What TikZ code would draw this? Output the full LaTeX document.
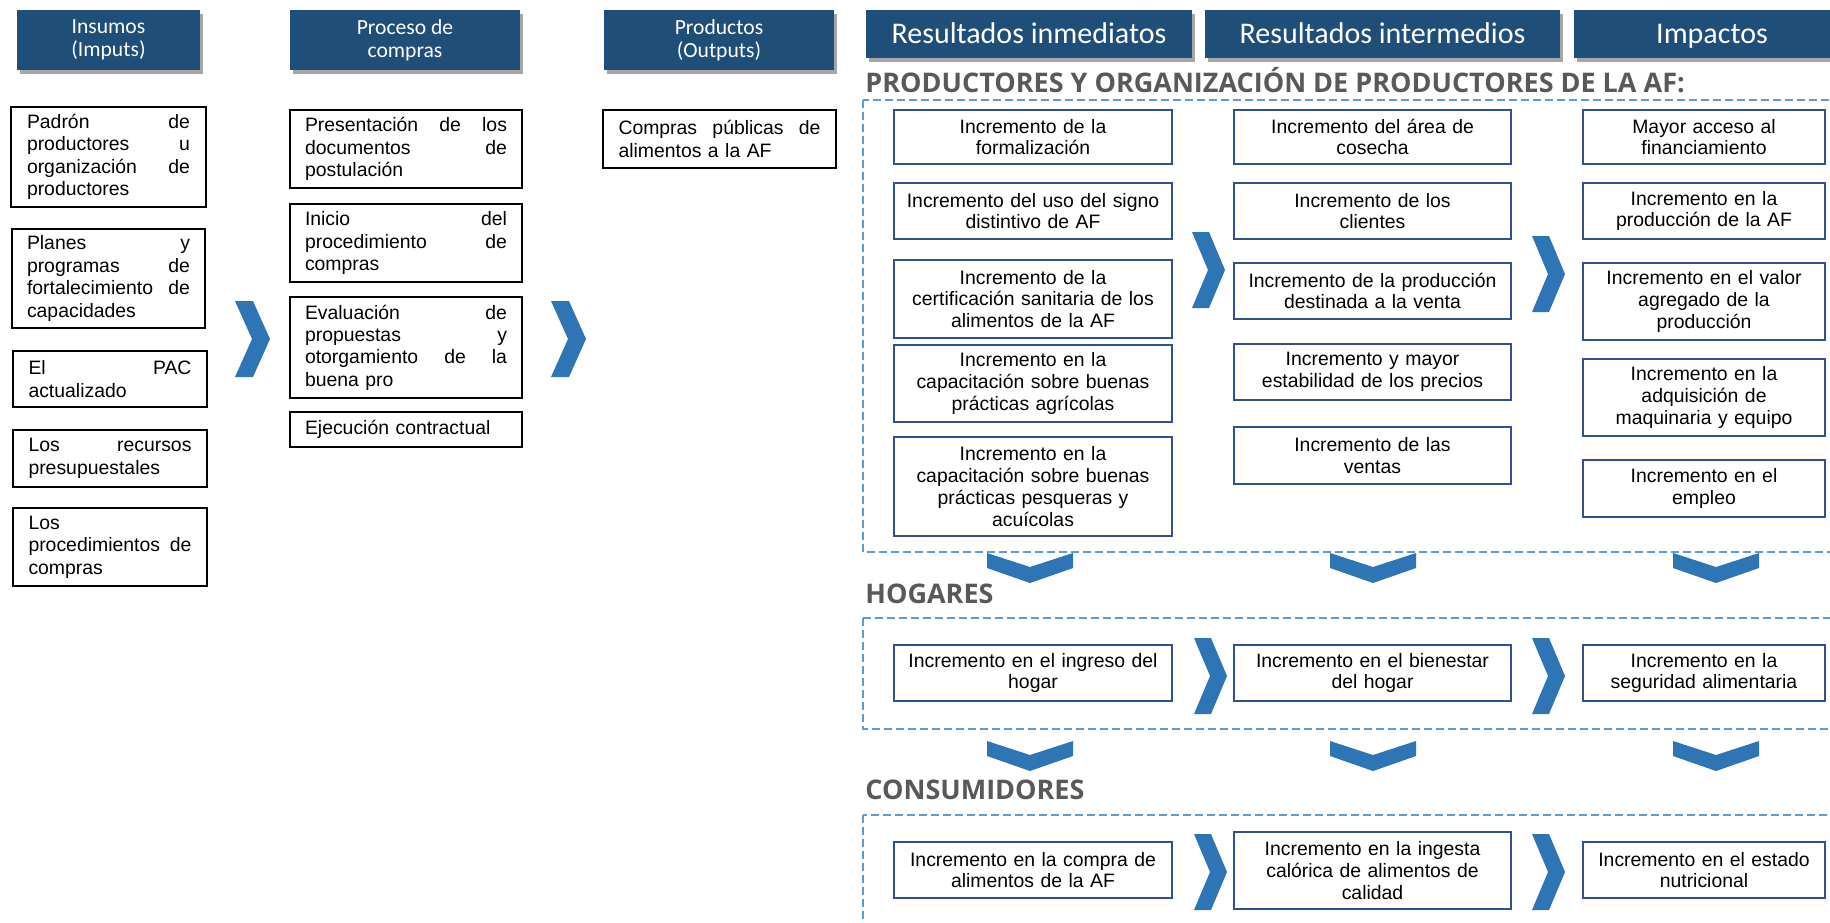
\documentclass[tikz,border=0pt]{standalone}
\usepackage{fontspec}
\setmainfont{Liberation Sans}
\newfontfamily\hdfont{Carlito}
\newfontfamily\ttlfont{Open Sans}
\usetikzlibrary{shadows}

\definecolor{hdblue}{RGB}{31,78,121}
\definecolor{chevblue}{RGB}{46,117,182}
\definecolor{dashblue}{RGB}{91,155,213}
\definecolor{bxblue}{RGB}{47,82,143}
\definecolor{ttlgrey}{RGB}{89,89,89}

% fill a line of a justified box
\newcommand\jf{\hskip 0pt plus 1filll\relax}

% box from corner (x1,y1) to corner (x2,y2): name, x1, y1, x2, y2, style, text
\newcommand\bx[7]{%
  \node[#6, minimum width={(#4-#2)*0.5pt}, minimum height={(#5-#3)*0.5pt}]
    (#1) at ({(#2+#4)/2},{(#3+#5)/2}) {#7};}

\tikzset{
  hd/.style={fill=hdblue, text=white, align=center, inner sep=0pt,
    drop shadow={shadow xshift=1.5pt, shadow yshift=-1.8pt, opacity=0.35, fill=black}},
  hdsmall/.style={hd, font=\hdfont\fontsize{10.8}{11.5}\selectfont},
  hdlarge/.style={hd, font=\hdfont\fontsize{15}{17}\selectfont,
    text height=11.5pt, text depth=2pt},
  lbox/.style={draw=black, line width=1.2pt, fill=white, align=left,
    inner xsep=0pt, inner ysep=0pt, font=\fontsize{9.7}{11.2}\selectfont},
  incol/.style={lbox, text width=81.5pt},
  prcol/.style={lbox, text width=101pt},
  rbox/.style={draw=bxblue, line width=1.2pt, fill=white, align=center,
    inner xsep=0pt, inner ysep=0pt, font=\fontsize{9.7}{10.9}\selectfont},
  rwide/.style={rbox, text width=132pt},
  rnarrow/.style={rbox, text width=116pt},
  grp/.style={draw=dashblue, line width=0.6pt, dash pattern=on 4pt off 2pt},
  ttl/.style={anchor=base west, inner sep=0pt, text=ttlgrey,
    font=\ttlfont\bfseries\fontsize{13.5}{15}\selectfont},
  rchev/.pic={\fill[chevblue] (0,0) -- (17,0) -- (33,38) -- (17,76) -- (0,76) -- (16,38) -- cycle;},
  lchev/.pic={\fill[chevblue] (0,0) -- (18,0) -- (35,38) -- (18,76) -- (0,76) -- (17,38) -- cycle;},
  dchev/.pic={\fill[chevblue] (0,0) -- (43,14) -- (86,0) -- (86,15) -- (43,30) -- (0,15) -- cycle;},
}

\begin{document}
\begin{tikzpicture}[x=0.5pt,y=-0.5pt]
\useasboundingbox[fill=white] (0,0) rectangle (1830,922);

% column headers
\bx{hIn}{17}{10}{200}{70}{hdsmall}{Insumos\\(Imputs)}
\bx{hPr}{290}{10}{520}{70}{hdsmall}{Proceso de\\compras}
\bx{hOut}{604}{10}{834}{70}{hdsmall}{Productos\\(Outputs)}
\bx{hRi}{866}{10}{1192}{58}{hdlarge}{Resultados inmediatos}
\bx{hRm}{1205}{10}{1560}{58}{hdlarge}{Resultados intermedios}
\bx{hIm}{1574}{10}{1850}{58}{hdlarge}{Impactos}

% inputs
\bx{in1}{11}{107}{206}{207}{incol}{Padrón\jf de\\productores\jf u\\organización\jf de\\productores}
\bx{in2}{12}{229}{205}{328}{incol}{Planes\jf y\\programas\jf de\\fortalecimiento\jf de\\capacidades}
\bx{in3}{13}{351}{207}{407}{incol}{El\jf PAC\\actualizado}
\bx{in4}{13}{430}{207}{487}{incol}{Los\jf recursos\\presupuestales}
\bx{in5}{13}{508}{207}{586}{incol}{Los\\procedimientos\jf de\\compras}

% purchase process
\bx{pr1}{290}{110}{522}{188}{prcol}{Presentación\jf de\jf los\\documentos\jf de\\postulación}
\bx{pr2}{290}{204}{522}{282}{prcol}{Inicio\jf del\\procedimiento\jf de\\compras}
\bx{pr3}{290}{297}{522}{398}{prcol}{Evaluación\jf de\\propuestas\jf y\\otorgamiento\jf de\jf la\\buena pro}
\bx{pr4}{290}{412}{522}{447}{prcol}{Ejecución contractual}

% outputs
\bx{out1}{603}{110}{836}{168}{prcol}{Compras\jf públicas\jf de\\alimentos a la AF}

\pic at (235,301) {lchev};
\pic at (551,301) {lchev};

% producers
\draw[grp] (863,100) rectangle (1860,552);
\node[ttl] (tProd) at (865,92) {PRODUCTORES Y ORGANIZACIÓN DE PRODUCTORES DE LA AF:};

\bx{a1}{894}{110}{1172}{164}{rwide}{Incremento de la\\formalización}
\bx{a2}{894}{183}{1172}{239}{rwide}{Incremento del uso del signo\\distintivo de AF}
\bx{a3}{894}{260}{1172}{338}{rwide}{Incremento de la\\certificación sanitaria de los\\alimentos de la AF}
\bx{a4}{894}{345}{1172}{422}{rwide}{Incremento en la\\capacitación sobre buenas\\prácticas agrícolas}
\bx{a5}{894}{437}{1172}{536}{rwide}{Incremento en la\\capacitación sobre buenas\\prácticas pesqueras y\\acuícolas}

\bx{b1}{1234}{110}{1511}{164}{rwide}{Incremento del área de\\cosecha}
\bx{b2}{1234}{183}{1511}{239}{rwide}{Incremento de los\\clientes}
\bx{b3}{1234}{263}{1511}{319}{rwide}{Incremento de la producción\\destinada a la venta}
\bx{b4}{1234}{344}{1511}{400}{rwide}{Incremento y mayor\\estabilidad de los precios}
\bx{b5}{1234}{427}{1511}{484}{rwide}{Incremento de las\\ventas}

\bx{c1}{1583}{110}{1825}{164}{rnarrow}{Mayor acceso al\\financiamiento}
\bx{c2}{1583}{183}{1825}{239}{rnarrow}{Incremento en la\\producción de la AF}
\bx{c3}{1583}{263}{1825}{340}{rnarrow}{Incremento en el valor\\agregado de la\\producción}
\bx{c4}{1583}{359}{1825}{436}{rnarrow}{Incremento en la\\adquisición de\\maquinaria y equipo}
\bx{c5}{1583}{460}{1825}{517}{rnarrow}{Incremento en el\\empleo}

\pic at (1192,232) {rchev};
\pic at (1532,236) {rchev};

\pic at (987,553) {dchev};
\pic at (1330,553) {dchev};
\pic at (1673,553) {dchev};

% households
\node[ttl] (tHog) at (865,603) {HOGARES};
\draw[grp] (863,618) rectangle (1860,729);
\bx{d1}{894}{645}{1172}{701}{rwide}{Incremento en el ingreso del\\hogar}
\bx{d2}{1234}{645}{1511}{701}{rwide}{Incremento en el bienestar\\del hogar}
\bx{d3}{1583}{645}{1825}{701}{rnarrow}{Incremento en la\\seguridad alimentaria}
\pic at (1194,638) {rchev};
\pic at (1532,638) {rchev};

\pic at (987,741) {dchev};
\pic at (1330,741) {dchev};
\pic at (1673,741) {dchev};

% consumers
\node[ttl] (tCons) at (865,799) {CONSUMIDORES};
\draw[grp] (863,815) rectangle (1860,960);
\bx{e1}{894}{842}{1172}{898}{rwide}{Incremento en la compra de\\alimentos de la AF}
\bx{e2}{1234}{832}{1511}{909}{rwide}{Incremento en la ingesta\\calórica de alimentos de\\calidad}
\bx{e3}{1583}{842}{1825}{898}{rnarrow}{Incremento en el estado\\nutricional}
\pic at (1194,834) {rchev};
\pic at (1532,834) {rchev};
\end{tikzpicture}
\end{document}
